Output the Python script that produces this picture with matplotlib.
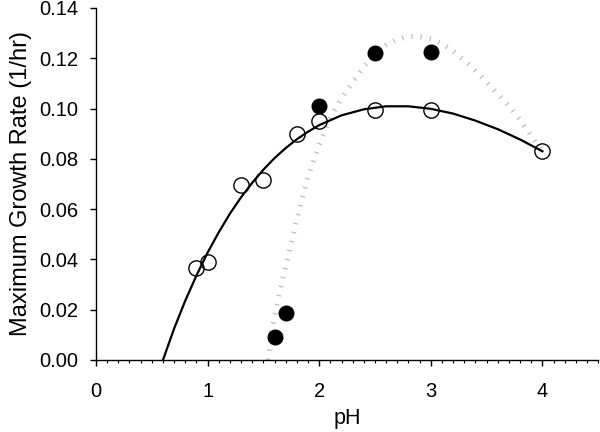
import matplotlib
matplotlib.use("Agg")
import matplotlib.pyplot as plt
from matplotlib.ticker import MultipleLocator

plt.rcParams['font.family'] = ['Liberation Sans', 'DejaVu Sans']

# Open-circle series
open_ph = [0.9, 1.0, 1.3, 1.5, 1.8, 2.0, 2.5, 3.0, 4.0]
open_rate = [0.0365, 0.039, 0.0695, 0.0715, 0.090, 0.095, 0.0995, 0.0995, 0.083]

# Filled-circle series
filled_ph = [1.6, 1.7, 2.0, 2.5, 3.0]
filled_rate = [0.009, 0.0185, 0.101, 0.122, 0.1225]

# Solid fitted curve
fit_ph = [0.6, 0.7, 0.8, 0.9, 1.0, 1.1, 1.2, 1.3, 1.4, 1.5, 1.6, 1.7, 1.8, 1.9, 2.0,
          2.2, 2.4, 2.6, 2.8, 3.0, 3.2, 3.4, 3.6, 3.8, 4.0]
fit_rate = [0.0, 0.0125, 0.0236, 0.0336, 0.0427, 0.0508, 0.0582, 0.0647, 0.0705,
            0.0757, 0.0803, 0.0843, 0.0878, 0.0908, 0.0934, 0.0973, 0.0997, 0.1009,
            0.1009, 0.0999, 0.0980, 0.0952, 0.0918, 0.0877, 0.083]

# Dotted fitted curve
dot_ph = [1.54, 1.58, 1.65, 1.72, 1.80, 1.90, 2.00, 2.10, 2.20, 2.30, 2.40, 2.50,
          2.60, 2.70, 2.80, 2.90, 3.00, 3.10, 3.20, 3.30, 3.40, 3.50, 3.60, 3.70,
          3.80, 3.90, 4.00]
dot_rate = [0.0, 0.013, 0.028, 0.041, 0.056, 0.073, 0.0855, 0.0965, 0.104, 0.1105,
            0.1166, 0.1215, 0.1252, 0.1276, 0.1287, 0.1286, 0.1277, 0.1258, 0.1229,
            0.1192, 0.1150, 0.1105, 0.1058, 0.1010, 0.0955, 0.0890, 0.083]

x_ticks = [0, 1, 2, 3, 4]
y_ticks = [0.00, 0.02, 0.04, 0.06, 0.08, 0.10, 0.12, 0.14]

fig = plt.figure(figsize=(6, 4.32), dpi=100)
ax = fig.add_axes([0.16, 0.1667, 0.837, 0.8148])

ax.plot(dot_ph, dot_rate, color='#bcbcbc', linewidth=3.6,
        linestyle=(0, (0.25, 1.6)), dash_capstyle='butt', zorder=1)
ax.plot(fit_ph, fit_rate, color='black', linewidth=1.6, zorder=2)
ax.plot(open_ph, open_rate, linestyle='none', marker='o', markersize=11,
        markerfacecolor='none', markeredgecolor='black', markeredgewidth=1.0, zorder=3)
ax.plot(filled_ph, filled_rate, linestyle='none', marker='o', markersize=10.5,
        markerfacecolor='black', markeredgecolor='black', zorder=3)

ax.set_xlim(0, 4.5)
ax.set_ylim(0, 0.14)
ax.set_xticks(x_ticks)
ax.set_xticklabels([str(v) for v in x_ticks])
ax.xaxis.set_minor_locator(MultipleLocator(0.1))
ax.set_yticks(y_ticks)
ax.set_yticklabels([f"{v:.2f}" for v in y_ticks])

for s in ['top', 'right']:
    ax.spines[s].set_visible(False)
for s in ['left', 'bottom']:
    ax.spines[s].set_linewidth(1.0)

ax.tick_params(axis='both', which='major', direction='out', length=4, width=1,
               labelsize=14.5)
ax.tick_params(axis='y', which='major', pad=9)
ax.tick_params(axis='x', which='major', pad=12)
ax.tick_params(axis='x', which='minor', direction='out', length=2.5, width=0.8)

ax.set_xlabel('pH', fontsize=15.5, labelpad=5)
ax.set_ylabel('Maximum Growth Rate (1/hr)', fontsize=17, labelpad=5)

fig.savefig('out.png', dpi=100)
